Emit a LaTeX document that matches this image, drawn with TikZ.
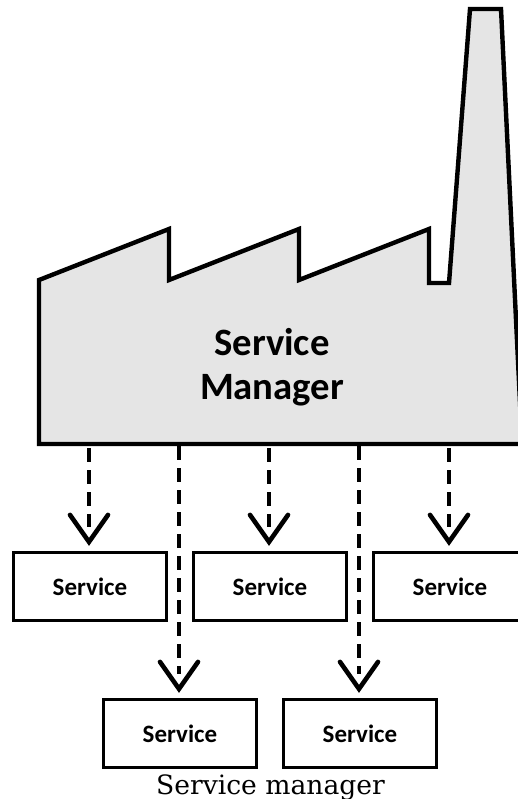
\documentclass[tikz,border=0pt]{standalone}
\usepackage{fontspec}
\setmainfont{Carlito}
\newfontfamily\capfont{DejaVu Serif}
\tikzset{
  x=1pt,y=-1pt,
  factory/.style={draw=black,fill=black!10,line width=4.4pt,miter limit=10},
  svc/.style={draw=black,fill=white,line width=3.2pt,minimum width=152.5pt,minimum height=68pt,inner sep=0pt,
    font=\fontsize{25}{25}\selectfont\bfseries},
  shaft/.style={draw=black,line width=4.4pt,dash pattern=on 14pt off 8pt},
  vhead/.style={draw=black,line width=4.6pt,line cap=round,line join=miter},
}
\newcommand{\svcarrow}[2]{%
  \path (#1 |- #2.north) coordinate (endpt);
  \draw[shaft] (#1) -- ([yshift=24pt]endpt);
  \draw[vhead] ([xshift=-19pt,yshift=36pt]endpt) -- ([yshift=9pt]endpt) -- ([xshift=19pt,yshift=36pt]endpt);
}
\begin{document}
\begin{tikzpicture}
\useasboundingbox (0,0) rectangle (518,799);
\draw[factory] (39,444) -- (39,280) -- (169,229) -- (169,280) -- (299,229) -- (299,280) -- (429,229)
  -- (429,283) -- (449,283) -- (470,9) -- (501,9) -- (522,444) -- cycle;
\node[align=center,font=\fontsize{38.7}{44}\selectfont\bfseries] (mgr) at (272,367) {Service\\Manager};
\node[svc] (s1) at (90,586.5) {Service};
\node[svc] (s2) at (270,586.5) {Service};
\node[svc] (s3) at (450,586.5) {Service};
\node[svc] (s4) at (180,733.5) {Service};
\node[svc] (s5) at (360,733.5) {Service};
\coordinate (a1) at (89,448);
\coordinate (a2) at (269,448);
\coordinate (a3) at (449,448);
\coordinate (a4) at (179,446);
\coordinate (a5) at (359,446);
\svcarrow{a1}{s1}
\svcarrow{a2}{s2}
\svcarrow{a3}{s3}
\svcarrow{a4}{s4}
\svcarrow{a5}{s5}
\node[font=\capfont\fontsize{26.6}{26.6}\selectfont,anchor=base] (cap) at (270.5,794) {Service manager};
\end{tikzpicture}
\end{document}
